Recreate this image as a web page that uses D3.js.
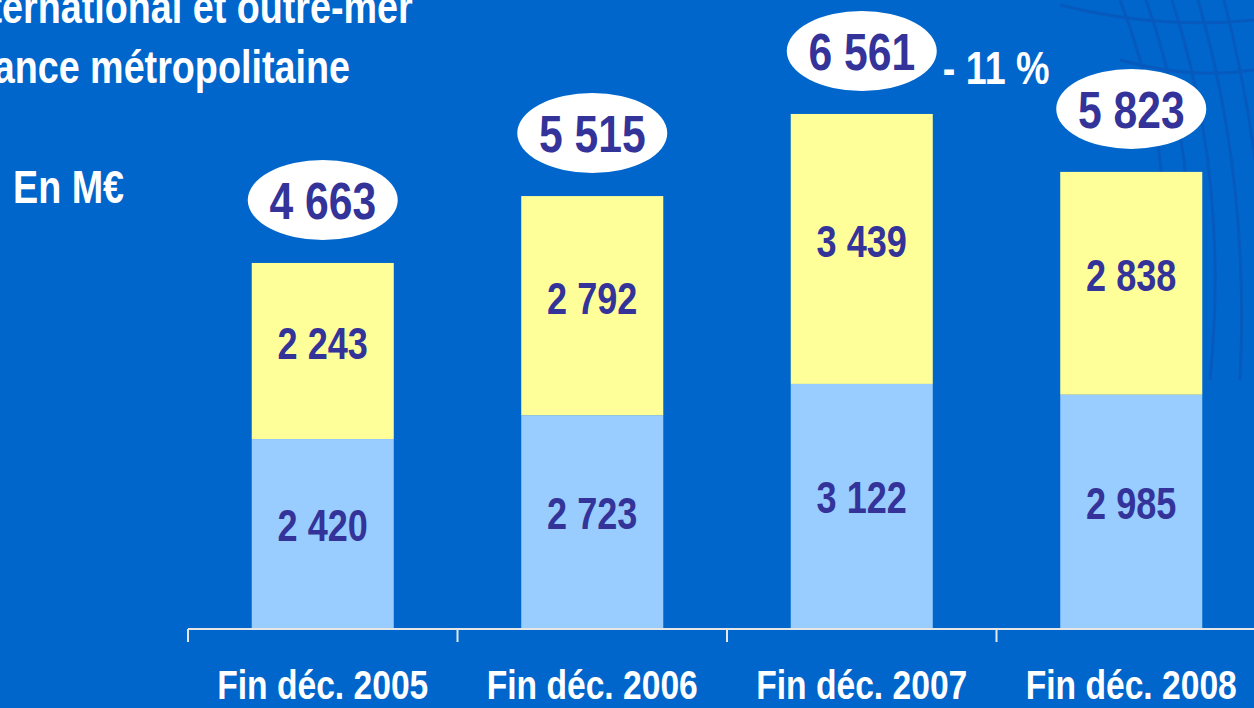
<!DOCTYPE html>
<html>
<head>
<meta charset="utf-8">
<script src="https://cdn.jsdelivr.net/npm/d3@7"></script>
<style>
  html, body { margin:0; padding:0; background:#0066cc; overflow:hidden; }
  svg text { font-family: "Liberation Sans", Arial, sans-serif; font-weight: bold; }
</style>
</head>
<body>
<div id="chart"></div>
<script>
// data
var years = ["Fin déc. 2005", "Fin déc. 2006", "Fin déc. 2007", "Fin déc. 2008"];
var metropole = [2420, 2723, 3122, 2985];
var international = [2243, 2792, 3439, 2838];
var totals = [4663, 5515, 6561, 5823];
var legendLabels = ["International et outre-mer", "France métropolitaine"];
var unitLabel = "En M€";
var changeLabel = "- 11 %";

var W = 1254, H = 708;
var squash = 0.82; // text in the slide is horizontally condensed

var svg = d3.select('#chart').append('svg')
	.attr("width", W)
	.attr("height", H);

svg.append("rect").attr("width", W).attr("height", H).attr("fill", "#0066cc");

// faint globe lines in the background, top right
var deco = svg.append("g").attr("fill", "none").attr("stroke", "#0a56b8").attr("stroke-width", 3).attr("opacity", 0.7);
[0, 1, 2, 3, 4].forEach(function(i){
	deco.append("path")
		.attr("d", "M" + (1120 + i*26) + ",0 Q" + (1190 + i*20) + ",180 " + (1150 + i*30) + ",380");
});
deco.append("path").attr("d", "M1060,5 Q1160,30 1254,20");
deco.append("path").attr("d", "M1120,60 Q1190,80 1254,70");

//scalers
var xscale = d3.scaleBand()
	.domain(years)
	.range([188, 1266])
	.paddingInner(0.473)
	.paddingOuter(0.2365);
var yscale = d3.scaleLinear()
	.domain([0, 7000])
	.range([629, 79.5]);

function squashed(sel, x, y){
	return sel.attr("transform", "translate(" + x + "," + y + ") scale(" + squash + ",1)");
}

var stacked = years.map(function(d, i){
	return {year: d, bottom: metropole[i], top: international[i], total: totals[i]};
});

// bars
var bars = svg.selectAll(".bar").data(stacked).enter().append("g").attr("class", "bar");
bars.append("rect")
	.attr("x", function(d){ return xscale(d.year); })
	.attr("width", xscale.bandwidth())
	.attr("y", function(d){ return yscale(d.bottom); })
	.attr("height", function(d){ return yscale(0) - yscale(d.bottom); })
	.attr("fill", "#99ccff");
bars.append("rect")
	.attr("x", function(d){ return xscale(d.year); })
	.attr("width", xscale.bandwidth())
	.attr("y", function(d){ return yscale(d.bottom + d.top); })
	.attr("height", function(d){ return yscale(d.bottom) - yscale(d.bottom + d.top); })
	.attr("fill", "#ffff99");

var fmt = function(v){ return d3.format(",")(v).replace(",", " "); };
var cx = function(d){ return xscale(d.year) + xscale.bandwidth()/2; };

// segment labels
bars.append("text")
	.attr("text-anchor", "middle")
	.attr("fill", "#333399")
	.style("font-size", "44px")
	.each(function(d){
		squashed(d3.select(this), cx(d), (yscale(0) + yscale(d.bottom))/2 + 7);
	})
	.text(function(d){ return fmt(d.bottom); });
bars.append("text")
	.attr("text-anchor", "middle")
	.attr("fill", "#333399")
	.style("font-size", "44px")
	.each(function(d){
		squashed(d3.select(this), cx(d), (yscale(d.bottom) + yscale(d.total))/2 + 8);
	})
	.text(function(d){ return fmt(d.top); });

// total bubbles
var bubble = bars.append("g")
	.attr("transform", function(d){ return "translate(" + cx(d) + "," + (yscale(d.total) - 63) + ")"; });
bubble.append("ellipse").attr("rx", 75).attr("ry", 40).attr("fill", "#ffffff");
bubble.append("text")
	.attr("text-anchor", "middle")
	.attr("fill", "#333399")
	.style("font-size", "52px")
	.each(function(){ squashed(d3.select(this), 0, 19); })
	.text(function(d){ return fmt(d.total); });

// change between the last two years
var last = stacked[2];
svg.append("text")
	.attr("fill", "#ffffff")
	.style("font-size", "46px")
	.call(squashed, cx(last) + 81, yscale(last.total) - 30)
	.text(changeLabel);

// axis: baseline with ticks between categories
var ax = svg.append("g").attr("stroke", "#e6e6e6").attr("stroke-width", 2);
ax.append("line")
	.attr("x1", xscale.range()[0]).attr("x2", xscale.range()[1])
	.attr("y1", yscale(0)).attr("y2", yscale(0));
d3.range(years.length + 1).forEach(function(i){
	var tx = xscale.range()[0] + i*xscale.step();
	ax.append("line").attr("x1", tx).attr("x2", tx).attr("y1", yscale(0)).attr("y2", yscale(0) + 13);
});
svg.selectAll(".xlab").data(years).enter().append("text")
	.attr("class", "xlab")
	.attr("text-anchor", "middle")
	.attr("fill", "#ffffff")
	.style("font-size", "41px")
	.each(function(d){ squashed(d3.select(this), xscale(d) + xscale.bandwidth()/2, 699); })
	.text(function(d){ return d; });

// legend text (cut at the left edge like the slide) and unit
legendLabels.forEach(function(t, i){
	svg.append("text")
		.attr("fill", "#ffffff")
		.style("font-size", "46px")
		.call(squashed, -44, 23 + i*60)
		.text(t);
});
svg.append("text")
	.attr("fill", "#ffffff")
	.style("font-size", "46px")
	.call(squashed, 13, 203)
	.text(unitLabel);
</script>
</body>
</html>
